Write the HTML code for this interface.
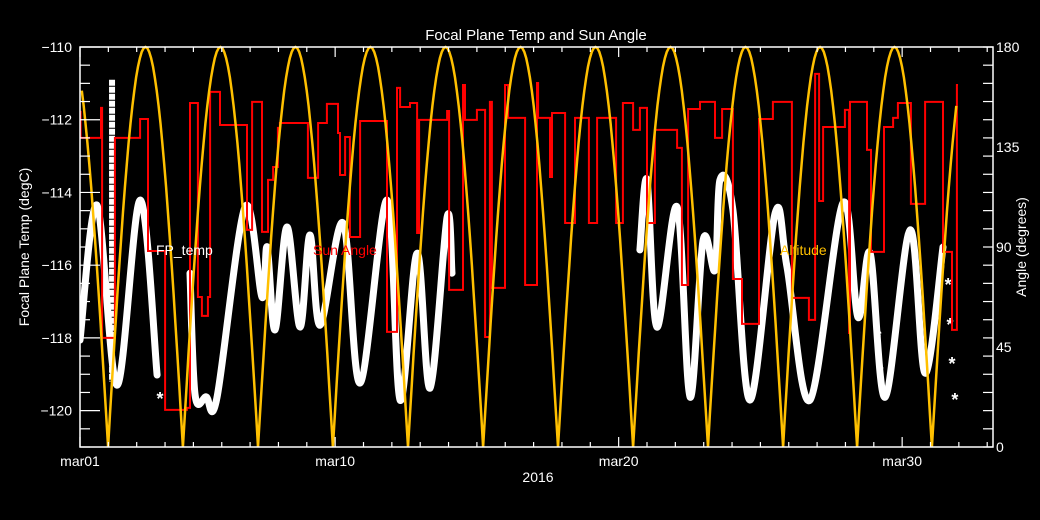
<!DOCTYPE html>
<html><head><meta charset="utf-8"><style>
html,body{margin:0;padding:0;background:#000;}
svg{display:block;font-family:"Liberation Sans",sans-serif;}
</style></head><body>
<svg id="chart" width="1040" height="520" viewBox="0 0 1040 520" xmlns="http://www.w3.org/2000/svg">
<rect width="1040" height="520" fill="#000"/>
<g id="marks"></g>
<g id="axes"></g>
<text x="536" y="40" fill="#fff" font-size="15" text-anchor="middle">Focal Plane Temp and Sun Angle</text>
<text x="538" y="482" fill="#fff" font-size="14" text-anchor="middle">2016</text>
<text transform="translate(29,247) rotate(-90)" fill="#fff" font-size="14" text-anchor="middle">Focal Plane Temp (degC)</text>
<text transform="translate(1026,247) rotate(-90)" fill="#fff" font-size="14" text-anchor="middle">Angle (degrees)</text>
<text x="156" y="255" fill="#fff" font-size="14">FP_temp</text>
<text x="313" y="255" fill="#f00" font-size="14">Sun Angle</text>
<text x="780" y="255" fill="#ffc000" font-size="14">Altitude</text>
</svg>
<script>
// ---- data ----
const xTickDays = [0, 9, 19, 29];
const xTickLabels = ["mar01", "mar10", "mar20", "mar30"];
const tempTicks = [-110, -112, -114, -116, -118, -120];
const angleTicks = [0, 45, 90, 135, 180];
const fpDays = [0,0.60,1.31,2.12,2.72,null,3.88,4.06,4.45,4.83,5.82,6.42,6.60,6.88,7.30,7.76,8.11,8.47,9.28,9.88,10.83,11.29,11.89,12.35,12.95,13.12,null,19.75,20.00,20.35,21.06,21.52,21.98,22.40,22.57,23.03,23.63,24.52,24.94,25.75,26.91,27.44,27.87,28.40,29.28,29.81,30.44];
const fpTemps = [-118.06,-114.35,-119.30,-114.21,-119.02,null,-116.22,-119.57,-119.62,-119.65,-114.40,-116.88,-115.50,-117.78,-114.95,-117.70,-115.17,-117.65,-114.84,-119.24,-114.21,-119.71,-115.67,-119.38,-114.68,-116.22,null,-115.58,-113.66,-117.70,-114.40,-119.63,-115.31,-116.13,-113.66,-114.48,-119.71,-114.57,-116.05,-119.71,-114.29,-117.43,-115.67,-119.63,-115.03,-118.97,-115.50];
const starDays = [2.82,28.15,28.22,30.62,30.69,30.76,30.86];
const starTemps = [-119.63,-117.92,-118.88,-116.49,-117.59,-118.66,-119.65];
const starColDay = 1.13;
const starColRange = [-110.9, -119.2];
const sunDays = [0.00,0.02,0.74,0.78,1.23,2.12,2.40,3.00,3.77,3.88,4.16,4.30,4.51,4.59,4.94,5.89,6.07,6.42,6.63,6.81,6.98,7.05,8.04,8.40,8.71,9.10,9.17,9.35,9.52,9.88,10.83,11.18,11.29,11.64,11.89,11.96,12.95,13.02,13.51,13.58,14.00,14.29,14.46,14.53,14.99,15.10,15.70,16.12,16.16,16.58,16.65,17.11,17.46,17.95,18.24,18.91,19.15,19.51,19.75,20.00,20.28,21.06,21.23,21.45,21.87,22.40,22.65,23.03,23.35,23.95,24.44,25.11,25.71,25.93,26.07,26.21,26.98,27.13,27.16,27.76,27.90,28.36,28.68,28.85,29.31,29.81,30.44,30.76,30.93,30.97];
const sunAngles = [150.8,139.1,152.6,49.1,139.1,147.6,88.2,16.7,17.6,154.8,67.5,59.0,67.5,159.8,144.9,97.7,155.3,96.8,120.2,126.0,143.6,145.8,121.1,145.8,154.4,141.3,122.4,139.5,94.5,146.7,51.8,161.6,153.0,154.8,96.3,147.2,151.2,70.7,162.9,147.2,151.7,49.5,155.3,71.6,162.9,148.1,72.9,163.8,148.1,121.5,150.3,100.8,148.1,100.8,148.1,100.8,154.8,142.7,152.6,100.8,142.7,134.6,72.9,152.1,155.3,139.1,152.1,75.6,55.4,147.6,155.3,67.1,57.2,167.9,110.7,144.0,151.7,51.3,155.3,133.7,87.8,144.0,148.1,154.8,109.4,155.3,87.8,52.7,162.9,162.9];
const altZeroDays = [-1.66,0.99,3.63,6.28,8.92,11.57,14.22,16.86,19.51,22.15,24.80,27.41,30.05,32.70];
const altPeaks = [180,180,180,180,180,180,180,180,180,180,180,180,180];
const altRange = [0, 30.97];

// ---- scales ----
const X0 = 80, X1 = 993, Y0 = 47, Y1 = 447, DAYPX = 28.35;
const xs = d => X0 + d * DAYPX;
const yT = t => Y0 + (-110 - t) * (Y1 - Y0) / 11;
const yA = a => Y1 - a * (Y1 - Y0) / 180;
const NS = "http://www.w3.org/2000/svg";
const marks = document.getElementById('marks');
const axes = document.getElementById('axes');
function mk(tag, parent, attrs) { const e = document.createElementNS(NS, tag); for (const k in attrs) e.setAttribute(k, attrs[k]); parent.appendChild(e); return e; }

const defs = mk('defs', marks, {});
const cp = mk('clipPath', defs, {id: 'plotclip'});
mk('rect', cp, {x: X0, y: Y0 - 2, width: X1 - X0, height: Y1 - Y0 + 2});
const g = mk('g', marks, {'clip-path': 'url(#plotclip)'});

let segs = [], cur = [];
for (let i = 0; i < fpDays.length; i++) {
  if (fpDays[i] === null) { segs.push(cur); cur = []; continue; }
  cur.push([xs(fpDays[i]), yT(fpTemps[i])]);
}
segs.push(cur);
function smooth(P) {
  let d = 'M' + P[0][0].toFixed(1) + ',' + P[0][1].toFixed(1);
  for (let i = 0; i < P.length - 1; i++) {
    const p0 = P[Math.max(i - 1, 0)], p1 = P[i], p2 = P[i + 1], p3 = P[Math.min(i + 2, P.length - 1)];
    const c1 = [p1[0] + (p2[0] - p0[0]) / 6, p1[1] + (p2[1] - p0[1]) / 6];
    const c2 = [p2[0] - (p3[0] - p1[0]) / 6, p2[1] - (p3[1] - p1[1]) / 6];
    d += ' C' + c1[0].toFixed(1) + ',' + c1[1].toFixed(1) + ' ' + c2[0].toFixed(1) + ',' + c2[1].toFixed(1) + ' ' + p2[0].toFixed(1) + ',' + p2[1].toFixed(1);
  }
  return d;
}
segs.forEach((s, i) => {
  const p = mk('path', g, {d: smooth(s), fill: 'none', stroke: '#fff', 'stroke-width': 7, 'stroke-linejoin': 'round', 'stroke-linecap': 'round'});
  
  
});
const col = mk('line', g, {x1: xs(starColDay), x2: xs(starColDay), y1: yT(starColRange[0]), y2: yT(starColRange[1]), stroke: '#fff', 'stroke-width': 6, 'stroke-dasharray': '6 1'});


starDays.forEach((d, i) => {
  const t = mk('text', g, {x: xs(d), y: yT(starTemps[i]) + 8, fill: '#fff', 'font-size': 18, 'font-weight': 'bold', 'text-anchor': 'middle'});
  t.textContent = '*';
  
  
});

let sp = [];
for (let i = 0; i < sunDays.length; i++) {
  const x = xs(sunDays[i]);
  if (i > 0) sp.push(x.toFixed(1) + ',' + yA(sunAngles[i - 1]).toFixed(1));
  sp.push(x.toFixed(1) + ',' + yA(sunAngles[i]).toFixed(1));
}
const sun = mk('polyline', g, {points: sp.join(' '), fill: 'none', stroke: '#f00', 'stroke-width': 2});



let ap = [];
for (let k = 0; k < altZeroDays.length - 1; k++) {
  const a = altZeroDays[k], b = altZeroDays[k + 1];
  for (let j = 0; j <= 40; j++) {
    const d = a + (b - a) * j / 40;
    if (d < altRange[0] || d > altRange[1]) continue;
    ap.push(xs(d).toFixed(1) + ',' + yA(altPeaks[k] * Math.sin(Math.PI * j / 40)).toFixed(1));
  }
}
const alt = mk('polyline', g, {points: ap.join(' '), fill: 'none', stroke: '#ffc000', 'stroke-width': 2.5});



const frame = mk('rect', axes, {x: X0, y: Y0, width: X1 - X0, height: Y1 - Y0, fill: 'none', stroke: '#fff', 'stroke-width': 1.5});


for (let d = 0; d <= 32; d++) {
  const major = xTickDays.includes(d), L = major ? 10 : 5, x = xs(d);
  mk('line', axes, {x1: x, x2: x, y1: Y1, y2: Y1 - L, stroke: '#fff', 'stroke-width': 1.2});
  mk('line', axes, {x1: x, x2: x, y1: Y0, y2: Y0 + L, stroke: '#fff', 'stroke-width': 1.2});
}
xTickDays.forEach((d, i) => {
  const t = mk('text', axes, {x: xs(d), y: 466, fill: '#fff', 'font-size': 14, 'text-anchor': 'middle'});
  t.textContent = xTickLabels[i];
  
  
});
for (let v = -110; v >= -121; v -= 0.5) {
  const major = Number.isInteger(v / 2), y = yT(v), L = major ? 20 : 10;
  mk('line', axes, {x1: X0, x2: X0 + L, y1: y, y2: y, stroke: '#fff', 'stroke-width': 1.2});
  mk('line', axes, {x1: X1, x2: X1 - 10, y1: y, y2: y, stroke: '#fff', 'stroke-width': 1.2});
}
tempTicks.forEach(v => {
  const t = mk('text', axes, {x: 72, y: yT(v) + 5, fill: '#fff', 'font-size': 14, 'text-anchor': 'end'});
  t.textContent = '\u2212' + Math.abs(v);
  
  
});
angleTicks.forEach(v => {
  const t = mk('text', axes, {x: 996, y: yA(v) + 5, fill: '#fff', 'font-size': 14});
  t.textContent = v;
  
  
});
</script>
</body></html>
